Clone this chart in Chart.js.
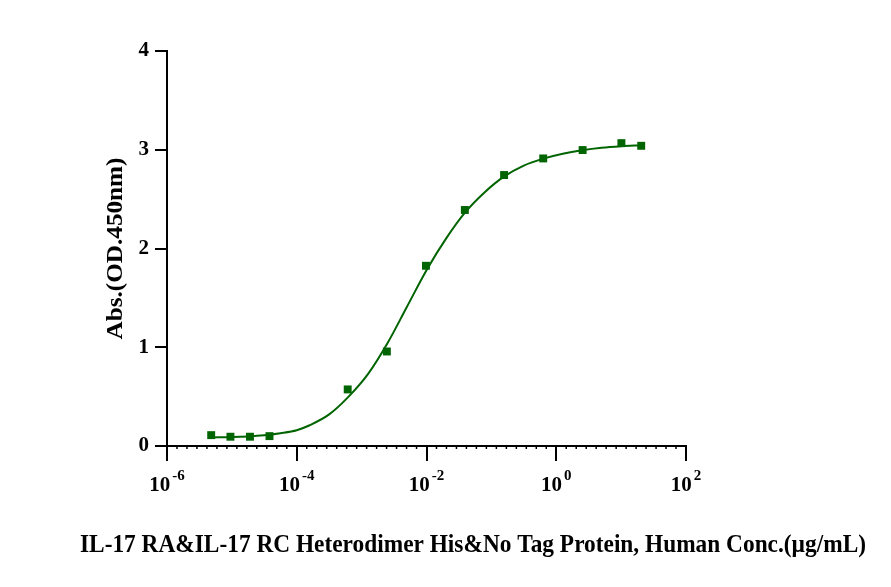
<!DOCTYPE html>
<html>
<head>
<meta charset="utf-8">
<script src="https://cdn.jsdelivr.net/npm/chart.js@4"></script>
<style>
  body { margin: 0; background: #fff; }
  #wrap { width: 891px; height: 587px; }
</style>
</head>
<body>
<div id="wrap"><canvas id="chart" width="891" height="587"></canvas></div>
<script>
// measured points (concentration in ug/mL, OD450)
const concentrations = [4.8e-6, 9.5e-6, 1.9e-5, 3.8e-5, 6.1e-4, 2.45e-3, 9.8e-3, 3.9e-2, 0.157, 0.63, 2.55, 10.1, 20.4];
const absorbance = [0.11, 0.094, 0.094, 0.10, 0.573, 0.957, 1.825, 2.39, 2.744, 2.912, 2.997, 3.067, 3.04];

// fitted curve
const fitConc = [4.8e-6, 1e-5, 3.16e-5, 5.6e-5, 1e-4, 1.58e-4, 3.16e-4, 6.3e-4, 1.26e-3, 2.5e-3, 5e-3, 1e-2, 2e-2, 4e-2, 7.9e-2, 0.158, 0.316, 0.63, 1.26, 2.5, 5, 10, 20.4];
const fitAbs = [0.087, 0.09, 0.11, 0.13, 0.16, 0.21, 0.32, 0.50, 0.73, 1.04, 1.41, 1.78, 2.10, 2.37, 2.57, 2.73, 2.84, 2.91, 2.96, 2.995, 3.02, 3.035, 3.045];

const xMajorTicks = [1e-6, 1e-4, 1e-2, 1, 100];
const xTickExponents = ['-6', '-4', '-2', '0', '2'];
const yTicks = [0, 1, 2, 3, 4];

const xTitle = 'IL-17 RA&IL-17 RC Heterodimer His&No Tag Protein, Human Conc.(\u00b5g/mL)';
const yTitle = 'Abs.(OD.450nm)';

const green = '#006400';
const serif = '"Liberation Serif", "Times New Roman", serif';

const pts = concentrations.map((c, i) => ({ x: c, y: absorbance[i] }));
const fit = fitConc.map((c, i) => ({ x: c, y: fitAbs[i] }));

// draws log minor ticks, superscript tick labels and axis titles
const axisDecor = {
  id: 'axisDecor',
  afterDraw(chart) {
    const ctx = chart.ctx;
    const xs = chart.scales.x;
    const ys = chart.scales.y;
    const base = ys.getPixelForValue(0);
    ctx.save();
    ctx.strokeStyle = '#000';
    ctx.lineWidth = 1.5;
    // minor ticks: 12 between each pair of majors
    for (let i = 0; i < xMajorTicks.length - 1; i++) {
      const a = Math.log10(xMajorTicks[i]), b = Math.log10(xMajorTicks[i + 1]);
      for (let k = 1; k < 13; k++) {
        const px = xs.getPixelForValue(Math.pow(10, a + (b - a) * k / 13));
        ctx.beginPath();
        ctx.moveTo(px, base);
        ctx.lineTo(px, base + 3);
        ctx.stroke();
      }
    }
    // x tick labels 10^n
    ctx.fillStyle = '#000';
    ctx.textBaseline = 'alphabetic';
    xMajorTicks.forEach((v, i) => {
      const px = xs.getPixelForValue(v);
      ctx.font = 'bold 21px ' + serif;
      const wBase = ctx.measureText('10').width;
      ctx.font = 'bold 15px ' + serif;
      const wExp = ctx.measureText(xTickExponents[i]).width;
      const left = px - (wBase + 2 + wExp) / 2;
      ctx.textAlign = 'left';
      ctx.font = 'bold 21px ' + serif;
      ctx.fillText('10', left, base + 45);
      ctx.font = 'bold 15px ' + serif;
      ctx.fillText(xTickExponents[i], left + wBase + 2, base + 34);
    });
    // x title, squeezed to fit like the reference
    ctx.font = 'bold 26px ' + serif;
    const tw = ctx.measureText(xTitle).width;
    const target = 786;
    ctx.save();
    ctx.translate(473, 552);
    ctx.scale(target / tw, 1);
    ctx.textAlign = 'center';
    ctx.fillText(xTitle, 0, 0);
    ctx.restore();
    // y title
    ctx.save();
    ctx.translate(122, (ys.top + ys.bottom) / 2);
    ctx.rotate(-Math.PI / 2);
    ctx.font = 'bold 24px ' + serif;
    const yw = ctx.measureText(yTitle).width;
    ctx.scale(182 / yw, 1);
    ctx.textAlign = 'center';
    ctx.fillText(yTitle, 0, 0);
    ctx.restore();
    ctx.restore();
  }
};

new Chart(document.getElementById('chart'), {
  type: 'scatter',
  data: {
    datasets: [
      {
        label: 'fit',
        data: fit,
        showLine: true,
        borderColor: green,
        borderWidth: 2,
        pointRadius: 0,
        cubicInterpolationMode: 'monotone',
        order: 2
      },
      {
        label: 'data',
        data: pts,
        pointStyle: 'rect',
        pointRadius: 5.6,
        backgroundColor: green,
        borderColor: green,
        borderWidth: 0,
        order: 1
      }
    ]
  },
  options: {
    responsive: false,
    animation: false,
    clip: false,
    layout: { padding: { top: 51, right: 205, left: 0, bottom: 0 } },
    plugins: { legend: { display: false }, tooltip: { enabled: false } },
    scales: {
      x: {
        type: 'logarithmic',
        min: 1e-6,
        max: 100,
        afterBuildTicks: s => { s.ticks = xMajorTicks.map(v => ({ value: v })); },
        afterFit: s => { s.height = 141; },
        ticks: { display: false },
        grid: { display: true, drawOnChartArea: false, drawTicks: true, tickLength: 15, color: '#000', lineWidth: 2 },
        border: { display: true, color: '#000', width: 2 }
      },
      y: {
        min: 0,
        max: 4,
        afterBuildTicks: s => { s.ticks = yTicks.map(v => ({ value: v })); },
        afterFit: s => { s.width = 167; },
        ticks: { color: '#000', padding: 6, font: { family: serif, size: 21, weight: 'bold' } },
        grid: { display: true, drawOnChartArea: false, drawTicks: true, tickLength: 12, color: '#000', lineWidth: 2 },
        border: { display: true, color: '#000', width: 2 }
      }
    }
  },
  plugins: [axisDecor]
});
</script>
</body>
</html>
